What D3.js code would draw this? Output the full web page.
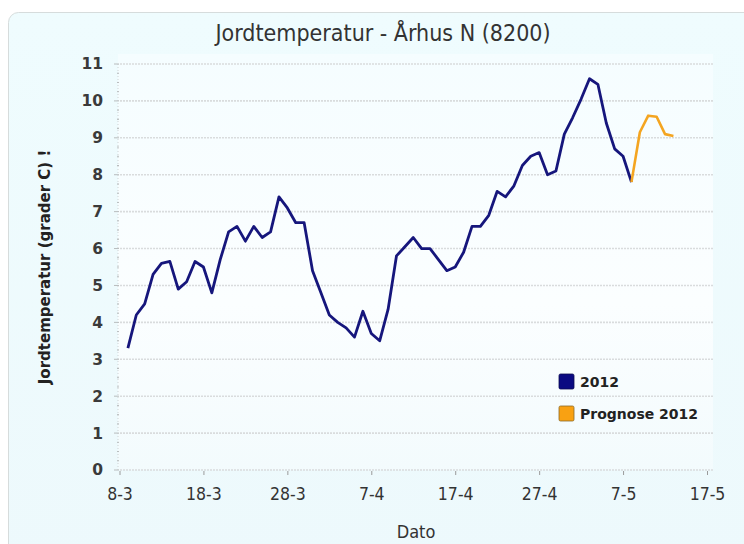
<!DOCTYPE html>
<html>
<head>
<meta charset="utf-8">
<script src="https://cdn.jsdelivr.net/npm/d3@7"></script>
<style>
  body { margin: 0; background: #fff; }
  svg { display: block; }
</style>
</head>
<body>
<svg id="chart" width="744" height="544"></svg>
<script>
// Data (daily soil temperature, degrees C)
const startDate = new Date(2012, 2, 9)   // 9-3-2012
const values2012 = [
  3.3, 4.2, 4.5, 5.3, 5.6, 5.65, 4.9, 5.1, 5.65, 5.5,
  4.8, 5.7, 6.45, 6.6, 6.2, 6.6, 6.3, 6.45, 7.4, 7.1,
  6.7, 6.7, 5.4, 4.8, 4.2, 4.0, 3.85, 3.6, 4.3, 3.7,
  3.5, 4.35, 5.8, 6.05, 6.3, 6.0, 6.0, 5.7, 5.4, 5.5,
  5.9, 6.6, 6.6, 6.9, 7.55, 7.4, 7.7, 8.25, 8.5, 8.6,
  8.0, 8.1, 9.1, 9.55, 10.05, 10.6, 10.45, 9.4, 8.7, 8.5,
  7.8
]
const forecastStart = new Date(2012, 4, 8)  // 8-5-2012
const valuesForecast = [7.8, 9.15, 9.6, 9.57, 9.1, 9.05]

const xTicks = ['2012-03-08', '2012-03-18', '2012-03-28', '2012-04-07', '2012-04-17', '2012-04-27', '2012-05-07', '2012-05-17']
const yTicks = [0, 1, 2, 3, 4, 5, 6, 7, 8, 9, 10, 11]
const seriesNames = ['2012', 'Prognose 2012']
const seriesColors = ['#16167c', '#f4a521']

const title = 'Jordtemperatur - Århus N (8200)'
const yTitle = 'Jordtemperatur (grader C) !'
const xTitle = 'Dato'

const svg = d3.select('#chart')
const W = 744, H = 544
const plot = { left: 118, right: 713, top: 64, bottom: 470 }
const narrow = 'DejaVu Sans Condensed, Liberation Sans Narrow, sans-serif'

// Background card
const defs = svg.append('defs')
const grad = defs.append('linearGradient').attr('id', 'bg').attr('x1', 0).attr('y1', 0).attr('x2', 0).attr('y2', 1)
grad.append('stop').attr('offset', '0%').attr('stop-color', '#effcfe')
grad.append('stop').attr('offset', '100%').attr('stop-color', '#edf9fc')
const pgrad = defs.append('linearGradient').attr('id', 'pbg').attr('x1', 0).attr('y1', 0).attr('x2', 0).attr('y2', 1)
pgrad.append('stop').attr('offset', '0%').attr('stop-color', '#f5fdff')
pgrad.append('stop').attr('offset', '60%').attr('stop-color', '#fbfeff')
pgrad.append('stop').attr('offset', '100%').attr('stop-color', '#f3fbfd')

svg.append('rect').attr('width', W).attr('height', H).attr('fill', '#ffffff')
svg.append('rect')
    .attr('x', 8.5).attr('y', 12.5).attr('width', W + 20).attr('height', H + 20)
    .attr('rx', 10)
    .attr('fill', 'url(#bg)')
    .attr('stroke', '#d6dcdc')

svg.append('rect')
    .attr('x', plot.left).attr('y', plot.top - 10)
    .attr('width', plot.right - plot.left).attr('height', plot.bottom - plot.top + 10)
    .attr('fill', 'url(#pbg)')

// Scales
const parse = d3.timeParse('%Y-%m-%d')
const x = d3.scaleTime()
    .domain([parse('2012-03-08'), parse('2012-05-17')])
    .range([119.5, 707])
const y = d3.scaleLinear().domain([0, 11]).range([plot.bottom, plot.top])

// Grid lines
svg.append('g')
    .selectAll('line')
    .data(yTicks)
    .join('line')
    .attr('x1', plot.left + 2).attr('x2', plot.right)
    .attr('y1', d => y(d)).attr('y2', d => y(d))
    .attr('stroke', '#d9dcdd')
    .attr('stroke-width', 1.6)
    .attr('stroke-dasharray', '2,1')

// Y axis: dotted line with minor ticks
svg.append('line')
    .attr('x1', plot.left).attr('x2', plot.left)
    .attr('y1', y(11)).attr('y2', y(0))
    .attr('stroke', '#cfd3d4')
    .attr('stroke-dasharray', '1,2')
svg.append('g')
    .selectAll('line')
    .data(d3.range(0, 11.01, 0.25))
    .join('line')
    .attr('x1', d => plot.left - (d % 1 === 0 ? 4 : 1))
    .attr('x2', plot.left + 1)
    .attr('y1', d => y(d)).attr('y2', d => y(d))
    .attr('stroke', '#b8bcbd')

const yAxis = d3.axisLeft(y).tickValues(yTicks).tickSize(0).tickPadding(15)
const gy = svg.append('g').attr('transform', `translate(${plot.left},0)`).call(yAxis)
gy.select('.domain').remove()
gy.selectAll('text')
    .attr('font-family', 'DejaVu Sans, sans-serif')
    .attr('font-size', 15.5)
    .attr('font-weight', 'bold')
    .attr('fill', '#3a3a3a')

// X axis
const xAxis = d3.axisBottom(x)
    .tickValues(xTicks.map(parse))
    .tickFormat(d3.timeFormat('%-d-%-m'))
    .tickSize(4)
    .tickPadding(13)
const gx = svg.append('g').attr('transform', `translate(0,${plot.bottom + 1})`).call(xAxis)
gx.select('.domain').remove()
gx.selectAll('line').attr('stroke', '#9a9a9a')
gx.selectAll('text')
    .attr('font-family', narrow)
    .attr('font-size', 17.5)
    .attr('fill', '#333')

// Lines
const line = d3.line()
    .x(d => x(d.date))
    .y(d => y(d.value))

const toPoints = (start, vals) => vals.map((v, i) => ({ date: d3.timeDay.offset(start, i), value: v }))

svg.append('path')
    .datum(toPoints(startDate, values2012))
    .attr('d', line)
    .attr('fill', 'none')
    .attr('stroke', seriesColors[0])
    .attr('stroke-width', 2.8)
    .attr('stroke-linejoin', 'round')

svg.append('path')
    .datum(toPoints(forecastStart, valuesForecast))
    .attr('d', line)
    .attr('fill', 'none')
    .attr('stroke', seriesColors[1])
    .attr('stroke-width', 2.6)
    .attr('stroke-linejoin', 'round')

// Legend
const legend = svg.append('g').attr('transform', 'translate(559,374)')
const items = legend.selectAll('g')
    .data(seriesNames)
    .join('g')
    .attr('transform', (d, i) => `translate(0,${i * 32})`)
items.append('rect')
    .attr('width', 15).attr('height', 15)
    .attr('rx', 1.5)
    .attr('fill', (d, i) => i === 0 ? '#0a0a82' : '#f9a112')
    .attr('stroke', (d, i) => i === 0 ? '#0a0a50' : '#8a6a2a')
    .attr('stroke-width', 0.8)
items.append('text')
    .attr('x', 21).attr('y', 13)
    .attr('font-family', 'DejaVu Sans, sans-serif')
    .attr('font-size', 14)
    .attr('font-weight', 'bold')
    .attr('fill', '#222')
    .text(d => d)

// Titles
svg.append('text')
    .attr('x', 383).attr('y', 41)
    .attr('text-anchor', 'middle')
    .attr('font-family', narrow)
    .attr('font-size', 23)
    .attr('fill', '#333')
    .text(title)

svg.append('text')
    .attr('transform', 'translate(50,267) rotate(-90)')
    .attr('text-anchor', 'middle')
    .attr('font-family', 'DejaVu Sans, sans-serif')
    .attr('font-size', 15)
    .attr('font-weight', 'bold')
    .attr('fill', '#222')
    .text(yTitle)

svg.append('text')
    .attr('x', 416).attr('y', 538)
    .attr('text-anchor', 'middle')
    .attr('font-family', narrow)
    .attr('font-size', 18)
    .attr('fill', '#333')
    .text(xTitle)
</script>
</body>
</html>
